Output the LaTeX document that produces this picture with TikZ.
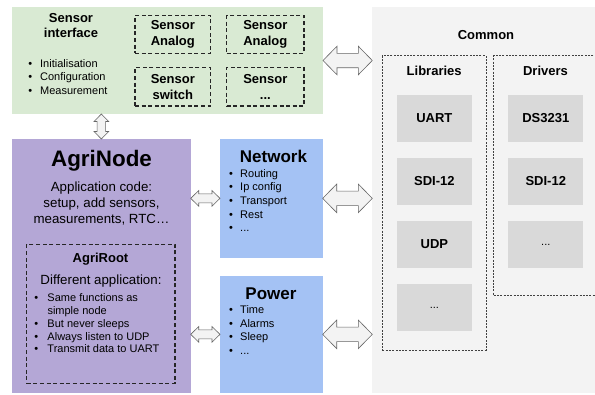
\documentclass[tikz,border=0pt]{standalone}
\usepackage{fontspec}
\setmainfont{Liberation Sans}
\usetikzlibrary{calc}
\definecolor{cgreen}{HTML}{D9EAD3}
\definecolor{cpurple}{HTML}{B4A7D6}
\definecolor{cblue}{HTML}{A4C2F4}
\definecolor{ccommon}{HTML}{F3F3F3}
\definecolor{cbox}{HTML}{D9D9D9}
\definecolor{carrowfill}{HTML}{F3F3F3}
\definecolor{carrowline}{HTML}{666666}
\newcommand{\bu}[1]{\makebox[#1pt][l]{•}}
\newcommand{\harr}[5]{%
  \draw[arrowshape] (#1) -- ($(#1)+(#5,-#3)$) -- ($(#1)+(#5,-#4)$) -- ($(#2)+(-#5,-#4)$) -- ($(#2)+(-#5,-#3)$) -- (#2) -- ($(#2)+(-#5,#3)$) -- ($(#2)+(-#5,#4)$) -- ($(#1)+(#5,#4)$) -- ($(#1)+(#5,#3)$) -- cycle;}
\newcommand{\varr}[5]{%
  \draw[arrowshape] (#1) -- ($(#1)+(-#3,#5)$) -- ($(#1)+(-#4,#5)$) -- ($(#2)+(-#4,-#5)$) -- ($(#2)+(-#3,-#5)$) -- (#2) -- ($(#2)+(#3,-#5)$) -- ($(#2)+(#4,-#5)$) -- ($(#1)+(#4,#5)$) -- ($(#1)+(#3,#5)$) -- cycle;}
\begin{document}
\begin{tikzpicture}[x=1pt,y=-1pt,
  area/.style={rectangle, inner sep=0pt, outer sep=0pt, draw=none},
  sensorbox/.style={rectangle, inner sep=0pt, outer sep=0pt, draw=black!85, line width=1.1pt, dash pattern=on 4pt off 2.6pt, align=center, font=\fontsize{13}{15.5}\selectfont\bfseries},
  rootbox/.style={rectangle, inner sep=0pt, outer sep=0pt, draw=black!85, line width=1.1pt, dash pattern=on 4pt off 2.6pt},
  groupbox/.style={rectangle, inner sep=0pt, outer sep=0pt, draw=black!75, line width=0.6pt, dash pattern=on 2pt off 1.3pt},
  libbox/.style={rectangle, inner sep=0pt, outer sep=0pt, fill=cbox, minimum width=75.3pt, minimum height=46.7pt, font=\fontsize{13}{15}\selectfont\bfseries},
  title/.style={inner sep=0pt, font=\fontsize{13}{15}\selectfont\bfseries, align=center},
  bigtitle/.style={inner sep=0pt, font=\fontsize{17}{20}\selectfont\bfseries},
  body/.style={inner sep=0pt, font=\fontsize{13.3}{16.3}\selectfont, align=center},
  blist/.style={inner sep=0pt, anchor=west, align=left, font=\fontsize{11}{13.6}\selectfont},
  arrowshape/.style={fill=carrowfill, draw=carrowline, line width=0.6pt, line join=miter}
]
\clip (0,0) rectangle (595,394);
\fill[white] (0,0) rectangle (595,394);

% main areas
\node[area, fill=cgreen, minimum width=311pt, minimum height=107pt] (green) at (167.5,60.5) {};
\node[area, fill=cpurple, minimum width=178.7pt, minimum height=254pt] (agri) at (101.35,266) {};
\node[area, fill=cblue, minimum width=102.7pt, minimum height=118.7pt] (net) at (271.35,198.35) {};
\node[area, fill=cblue, minimum width=102.7pt, minimum height=117.3pt] (pow) at (271.35,334.35) {};
\node[area, fill=ccommon, minimum width=230pt, minimum height=386pt] (common) at (487.3,200.3) {};

% sensor interface
\node[title] (sitit) at (71,26) {Sensor\\interface};
\node[blist] (silist) at (28.1,77) {\bu{11.9}Initialisation\\\bu{11.9}Configuration\\\bu{11.9}Measurement};
\node[sensorbox, minimum width=75.7pt, minimum height=37.6pt] (sa1) at (172.85,34.5) {Sensor\\Analog};
\node[sensorbox, minimum width=77.3pt, minimum height=37.6pt] (sa2) at (265.35,34.5) {Sensor\\Analog};
\node[sensorbox, minimum width=75.7pt, minimum height=38.3pt] (ss) at (172.85,86.85) {Sensor\\switch};
\node[sensorbox, minimum width=77.3pt, minimum height=38.3pt] (sx) at (265.35,86.85) {Sensor\\...};

% AgriNode
\node[inner sep=0pt, font=\fontsize{22.4}{26}\selectfont\bfseries] (agt) at (101.5,160.5) {AgriNode};
\node[body] (agb) at (101.5,203.5) {Application code:\\setup, add sensors,\\measurements, RTC…};
\node[rootbox, minimum width=148.3pt, minimum height=139pt] (root) at (100.85,313.8) {};
\node[title] (rtt) at (100.5,259.5) {AgriRoot};
\node[body] (rtb) at (101,280.7) {Different application:};
\node[blist, font=\fontsize{11}{12.8}\selectfont] (rtl) at (34.1,323.3) {\bu{13.2}Same functions as\\\hspace{13.2pt}simple node\\\bu{13.2}But never sleeps\\\bu{13.2}Always listen to UDP\\\bu{13.2}Transmit data to UART};

% Network
\node[bigtitle] (ntt) at (273.5,156.7) {Network};
\node[blist] (ntl) at (228.8,200.6) {\bu{11.2}Routing\\\bu{11.2}Ip config\\\bu{11.2}Transport\\\bu{11.2}Rest\\\bu{11.2}...};

% Power
\node[bigtitle] (ptt) at (271,293.3) {Power};
\node[blist] (ptl) at (228.8,330.2) {\bu{11.2}Time\\\bu{11.2}Alarms\\\bu{11.2}Sleep\\\bu{11.2}...};

% Common
\node[title] (ctt) at (486,35) {Common};
\node[groupbox, minimum width=103.7pt, minimum height=294.3pt] (libs) at (434.15,202.85) {};
\node[groupbox, minimum width=110pt, minimum height=239.3pt] (drv) at (548.7,175.35) {};
\node[title] (libt) at (434.2,70.7) {Libraries};
\node[title] (drvt) at (545.5,70.7) {Drivers};
\node[libbox] (l1) at (434.35,118.35) {UART};
\node[libbox] (l2) at (434.35,181.2) {SDI-12};
\node[libbox] (l3) at (434.35,244.5) {UDP};
\node[libbox, font=\fontsize{11}{13}\selectfont] (l4) at (434.35,307.5) {...};
\node[libbox] (d1) at (545.8,118.35) {DS3231};
\node[libbox] (d2) at (545.8,181.2) {SDI-12};
\node[libbox, font=\fontsize{11}{13}\selectfont] (d3) at (545.8,244.5) {...};

% connectors (block double arrows)
\coordinate (a1) at (green.east);
\coordinate (a2) at (common.west |- green.east);
\harr{a1}{a2}{14.3}{7.2}{14}
\coordinate (b1) at (net.east);
\coordinate (b2) at (common.west |- net.east);
\harr{b1}{b2}{14.3}{7.2}{14}
\coordinate (c1) at (pow.east);
\coordinate (c2) at (common.west |- pow.east);
\harr{c1}{c2}{14.3}{7.2}{14}
\coordinate (e1) at (agri.east |- net.west);
\coordinate (e2) at (net.west);
\harr{e1}{e2}{7.8}{4.5}{8}
\coordinate (f1) at (agri.east |- pow.west);
\coordinate (f2) at (pow.west);
\harr{f1}{f2}{7.8}{4.5}{8}
\coordinate (v1) at (agri.north |- green.south);
\coordinate (v2) at (agri.north);
\varr{v1}{v2}{7.3}{4.3}{7.5}
\end{tikzpicture}
\end{document}
